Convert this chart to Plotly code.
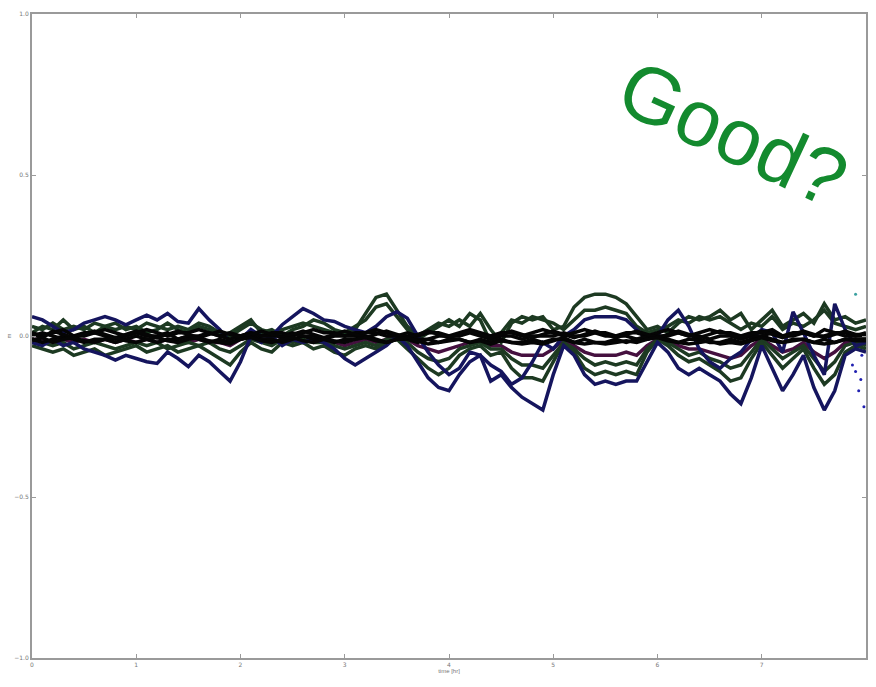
import plotly.graph_objects as go

# time grid (hr), step 0.1 from 0 to 8
time_hr = [round(i * 0.1, 1) for i in range(81)]

s_navy_low = [-0.02,-0.03,-0.01,-0.03,-0.02,-0.04,-0.05,-0.06,-0.075,-0.06,
              -0.07,-0.08,-0.085,-0.05,-0.07,-0.095,-0.06,-0.08,-0.11,-0.14,
              -0.08,0.00,-0.02,0.00,-0.03,-0.01,-0.02,-0.01,-0.02,-0.04,
              -0.07,-0.09,-0.07,-0.05,-0.03,0.00,-0.03,-0.08,-0.13,-0.16,
              -0.17,-0.12,-0.08,-0.06,-0.14,-0.12,-0.16,-0.19,-0.21,-0.23,
              -0.12,-0.03,-0.06,-0.12,-0.15,-0.14,-0.15,-0.14,-0.14,-0.08,
              -0.02,-0.05,-0.10,-0.12,-0.10,-0.12,-0.14,-0.18,-0.21,-0.13,
              -0.03,-0.10,-0.17,-0.12,-0.06,-0.16,-0.23,-0.17,-0.06,-0.04,-0.05]

s_navy_up = [0.06,0.05,0.03,0.01,0.02,0.04,0.05,0.06,0.05,0.035,
             0.05,0.065,0.05,0.07,0.045,0.04,0.085,0.05,0.02,-0.02,
             -0.01,0.02,0.00,0.00,0.035,0.06,0.085,0.07,0.05,0.045,
             0.03,0.02,0.01,0.03,0.06,0.075,0.055,0.00,-0.05,-0.09,
             -0.12,-0.10,-0.05,-0.06,-0.09,-0.11,-0.15,-0.13,-0.08,-0.02,
             -0.04,0.00,0.02,0.05,0.06,0.06,0.06,0.05,0.02,-0.01,
             0.00,0.05,0.08,0.03,-0.04,-0.08,-0.10,-0.07,-0.05,-0.01,
             0.02,0.01,-0.05,0.075,0.01,-0.06,-0.12,0.10,0.02,-0.03,-0.02]

s_green_top = [0.03,0.02,0.04,0.02,0.03,0.02,0.04,0.03,0.02,0.03,
               0.02,0.04,0.03,0.02,0.03,0.02,0.04,0.03,0.01,0.00,
               0.02,0.04,0.02,0.01,0.02,0.03,0.04,0.03,0.02,0.01,
               0.00,0.02,0.07,0.12,0.13,0.08,0.03,0.00,0.02,0.04,
               0.03,0.05,0.03,0.07,0.02,-0.02,0.04,0.06,0.05,0.06,
               0.02,0.03,0.09,0.12,0.13,0.13,0.12,0.10,0.06,0.02,
               0.03,0.01,0.04,0.06,0.05,0.06,0.08,0.05,0.07,0.02,
               0.05,0.08,0.03,0.05,0.07,0.04,0.10,0.05,0.06,0.04,0.05]

s_green_low = [-0.03,-0.04,-0.05,-0.04,-0.06,-0.05,-0.04,-0.06,-0.05,-0.04,
               -0.03,-0.05,-0.04,-0.03,-0.05,-0.04,-0.03,-0.05,-0.07,-0.09,
               -0.05,-0.02,-0.04,-0.05,-0.02,-0.03,-0.02,-0.04,-0.03,-0.05,
               -0.06,-0.04,-0.03,-0.04,-0.02,-0.01,-0.04,-0.07,-0.10,-0.12,
               -0.10,-0.06,-0.04,-0.03,-0.06,-0.05,-0.10,-0.13,-0.13,-0.14,
               -0.08,-0.02,-0.05,-0.10,-0.12,-0.11,-0.12,-0.11,-0.12,-0.05,
               -0.01,-0.03,-0.06,-0.08,-0.07,-0.09,-0.11,-0.14,-0.13,-0.07,
               -0.02,-0.06,-0.10,-0.07,-0.04,-0.10,-0.15,-0.12,-0.05,-0.03,-0.04]

s_green_mid_up = [0.01,0.03,0.02,0.05,0.02,0.03,0.01,0.03,0.04,0.02,
                  0.03,0.01,0.02,0.04,0.02,0.01,0.03,0.02,0.00,0.01,
                  0.03,0.05,0.01,0.02,0.00,0.02,0.03,0.05,0.04,0.02,
                  0.01,0.03,0.05,0.09,0.10,0.06,0.02,-0.01,0.01,0.03,
                  0.05,0.03,0.07,0.05,-0.02,0.01,0.05,0.04,0.06,0.05,
                  0.04,0.02,0.05,0.08,0.08,0.09,0.08,0.07,0.03,0.01,
                  0.02,0.03,0.05,0.04,0.06,0.05,0.06,0.04,0.02,0.04,
                  0.03,0.06,0.02,0.04,0.03,0.05,0.08,0.04,0.03,0.02,0.03]

s_green_mid_low = [-0.01,-0.02,-0.03,-0.02,-0.04,-0.03,-0.02,-0.03,-0.04,-0.03,
                   -0.02,-0.03,-0.02,-0.04,-0.03,-0.02,-0.03,-0.02,-0.04,-0.05,
                   -0.03,-0.01,-0.02,-0.03,-0.01,-0.02,-0.01,-0.02,-0.02,-0.03,
                   -0.04,-0.03,-0.02,-0.03,-0.01,-0.01,-0.02,-0.05,-0.07,-0.08,
                   -0.07,-0.04,-0.03,-0.02,-0.04,-0.04,-0.07,-0.09,-0.09,-0.10,
                   -0.06,-0.02,-0.04,-0.07,-0.09,-0.08,-0.09,-0.08,-0.09,-0.04,
                   -0.01,-0.02,-0.04,-0.06,-0.05,-0.07,-0.08,-0.10,-0.09,-0.05,
                   -0.01,-0.04,-0.07,-0.05,-0.03,-0.07,-0.11,-0.08,-0.03,-0.02,-0.03]

s_purple = [-0.01,-0.01,-0.02,-0.01,-0.02,-0.01,-0.02,-0.01,-0.02,-0.01,
            -0.02,-0.01,-0.02,-0.01,-0.02,-0.02,-0.01,-0.02,-0.02,-0.03,
            -0.01,0.00,-0.01,-0.02,-0.01,-0.01,-0.02,-0.01,-0.02,-0.02,
            -0.03,-0.02,-0.01,-0.02,-0.01,0.00,-0.01,-0.03,-0.04,-0.05,
            -0.04,-0.03,-0.02,-0.02,-0.03,-0.03,-0.05,-0.06,-0.06,-0.06,
            -0.04,-0.01,-0.03,-0.05,-0.06,-0.06,-0.06,-0.05,-0.06,-0.03,
            -0.01,-0.02,-0.03,-0.04,-0.04,-0.05,-0.06,-0.07,-0.06,-0.03,
            -0.01,-0.03,-0.05,-0.04,-0.02,-0.05,-0.07,-0.05,-0.02,-0.02,-0.02]

s_core_a = [0.01,0.00,0.01,0.02,0.00,0.01,0.01,0.02,0.01,0.00,
            0.01,0.02,0.01,0.00,0.01,0.01,0.02,0.01,0.00,0.01,
            0.00,0.01,0.00,0.01,0.01,0.00,0.01,0.02,0.01,0.01,
            0.00,0.01,0.01,0.02,0.01,0.00,0.01,0.00,0.01,0.01,
            0.00,0.01,0.02,0.01,0.00,0.01,0.01,0.00,0.01,0.02,
            0.01,0.00,0.01,0.02,0.01,0.01,0.00,0.01,0.01,0.00,
            0.01,0.02,0.01,0.00,0.01,0.02,0.01,0.01,0.00,0.01,
            0.01,0.02,0.00,0.01,0.01,0.00,0.02,0.01,0.01,0.00,0.01]

s_core_b = [-0.01,-0.02,-0.01,0.00,-0.01,-0.02,-0.01,-0.01,-0.02,-0.01,
            0.00,-0.01,-0.02,-0.01,-0.01,0.00,-0.01,-0.02,-0.01,-0.02,
            -0.01,0.00,-0.01,-0.01,-0.02,-0.01,0.00,-0.01,-0.01,-0.02,
            -0.01,-0.01,0.00,-0.01,-0.02,-0.01,-0.01,-0.02,-0.01,-0.02,
            -0.01,-0.01,-0.02,-0.01,-0.02,-0.01,-0.02,-0.02,-0.01,-0.02,
            -0.01,-0.01,-0.02,-0.01,-0.02,-0.02,-0.01,-0.02,-0.01,-0.01,
            0.00,-0.01,-0.02,-0.01,-0.01,-0.02,-0.02,-0.01,-0.02,-0.01,
            0.00,-0.01,-0.02,-0.01,-0.01,-0.02,-0.01,-0.02,-0.01,-0.01,-0.01]

s_core_c = [0.00,0.01,0.00,-0.01,0.00,0.00,0.01,0.00,-0.01,0.00,
            0.01,0.00,0.00,0.01,-0.01,0.00,0.00,0.01,0.00,-0.01,
            0.00,0.01,0.00,0.00,0.00,0.01,0.00,0.00,-0.01,0.00,
            0.00,0.00,0.01,0.01,0.00,0.00,0.00,-0.01,-0.01,0.00,
            0.00,0.00,0.01,0.00,-0.01,0.00,0.00,-0.01,0.00,0.00,
            0.00,0.01,0.00,0.00,0.01,0.00,0.00,0.00,-0.01,0.00,
            0.00,0.00,0.01,0.00,0.00,-0.01,0.00,0.00,-0.01,0.00,
            0.00,0.01,0.00,0.00,0.01,0.00,0.00,0.01,0.00,0.00,0.00]

s_core_d = [0.005,-0.005,0.015,0.005,-0.005,0.005,0.015,0.005,-0.005,0.005,
            0.015,0.005,-0.005,0.005,0.015,0.005,-0.005,0.005,0.015,0.005,
            -0.005,0.005,0.015,0.005,-0.005,0.005,0.015,0.005,-0.005,0.005,
            0.015,0.005,-0.005,0.005,0.015,0.005,-0.005,0.005,0.015,0.005,
            -0.005,0.005,0.015,0.005,-0.005,0.005,0.015,0.005,-0.005,0.005,
            0.015,0.005,-0.005,0.005,0.015,0.005,-0.005,0.005,0.015,0.005,
            -0.005,0.005,0.015,0.005,-0.005,0.005,0.015,0.005,-0.005,0.005,
            0.015,0.005,-0.005,0.005,0.015,0.005,-0.005,0.005,0.015,0.005,0.005]

s_core_e = [-0.015,-0.005,-0.02,-0.01,-0.005,-0.015,-0.02,-0.01,-0.005,-0.015,
            -0.02,-0.01,-0.005,-0.015,-0.02,-0.01,-0.005,-0.015,-0.02,-0.025,
            -0.01,-0.005,-0.015,-0.02,-0.01,-0.005,-0.015,-0.02,-0.01,-0.015,
            -0.02,-0.01,-0.005,-0.015,-0.02,-0.01,-0.005,-0.015,-0.025,-0.02,
            -0.015,-0.01,-0.02,-0.015,-0.025,-0.015,-0.02,-0.025,-0.02,-0.025,
            -0.015,-0.005,-0.02,-0.025,-0.02,-0.025,-0.02,-0.015,-0.02,-0.01,
            -0.005,-0.015,-0.02,-0.025,-0.02,-0.015,-0.025,-0.02,-0.025,-0.015,
            -0.005,-0.015,-0.02,-0.015,-0.01,-0.02,-0.025,-0.02,-0.01,-0.015,-0.015]

dots_blue_x = [7.87, 7.95, 7.93, 7.98, 7.90, 7.96]
dots_blue_y = [-0.09, -0.135, -0.17, -0.22, -0.11, -0.06]
dot_teal_x = [7.9]
dot_teal_y = [0.13]

NAVY = "#15155e"
GREEN = "#1d3a22"
BLACK = "#050505"
PURPLE = "#45103f"

series = [
    (s_purple, PURPLE),
    (s_green_mid_low, GREEN),
    (s_green_mid_up, GREEN),
    (s_green_low, GREEN),
    (s_green_top, GREEN),
    (s_navy_up, NAVY),
    (s_navy_low, NAVY),
    (s_core_a, BLACK),
    (s_core_b, BLACK),
    (s_core_c, BLACK),
    (s_core_d, BLACK),
    (s_core_e, BLACK),
]

fig = go.Figure()
for ys, col in series:
    fig.add_trace(go.Scatter(x=time_hr, y=ys, mode="lines",
                             line=dict(color=col, width=3.5), showlegend=False,
                             hoverinfo="skip"))
fig.add_trace(go.Scatter(x=dots_blue_x, y=dots_blue_y, mode="markers",
                         marker=dict(color="#2020b0", size=3), showlegend=False))
fig.add_trace(go.Scatter(x=dot_teal_x, y=dot_teal_y, mode="markers",
                         marker=dict(color="#3aa0a0", size=3), showlegend=False))

axis_common = dict(showline=True, linecolor="#9a9a9a", linewidth=2, mirror="ticks",
                   ticks="inside", ticklen=4, tickcolor="#9a9a9a", showgrid=False,
                   zeroline=False, tickfont=dict(size=6, color="#777777", family="DejaVu Sans"))

fig.update_layout(
    width=876, height=687,
    margin=dict(l=29, r=8, t=14, b=29),
    paper_bgcolor="white", plot_bgcolor="white",
    xaxis=dict(range=[0, 8.0], tickvals=[0, 1, 2, 3, 4, 5, 6, 7],
               title=dict(text="time [hr]", font=dict(size=6, color="#777777"), standoff=2),
               **axis_common),
    yaxis=dict(range=[-1.0, 1.0], tickvals=[-1.0, -0.5, 0.0, 0.5, 1.0],
               ticktext=["\u22121.0", "\u22120.5", "0.0", "0.5", "1.0"],
               title=dict(text="m", font=dict(size=6, color="#777777"), standoff=2),
               **axis_common),
    font=dict(family="Liberation Sans", color="#777777"),
    annotations=[dict(text="Good?", xref="paper", yref="paper", x=0.84, y=0.815,
                      xanchor="center", yanchor="middle", showarrow=False,
                      textangle=25,
                      font=dict(size=80, color="#138a2e", family="Liberation Sans"))],
)

fig.write_html("out.html")
